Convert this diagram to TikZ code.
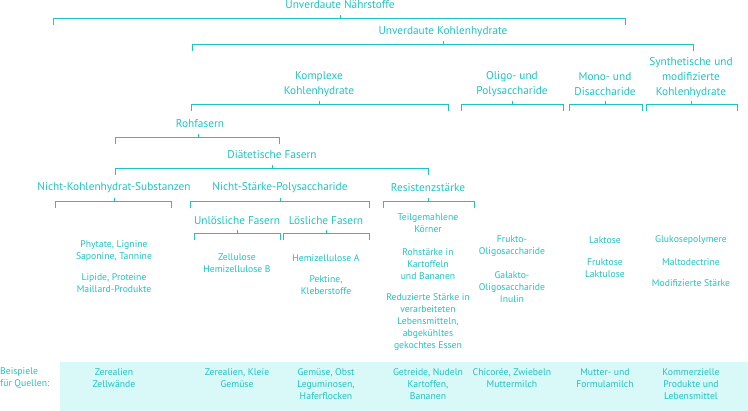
\documentclass[tikz,border=0pt]{standalone}
\usepackage{fontspec}
\setmainfont{PT Sans}
\definecolor{teal1}{HTML}{1EC3C3}
\definecolor{band}{HTML}{D9F8F8}
\tikzset{
  lbl/.style={text=teal1, font=\fontsize{11.3}{15}\selectfont, align=center, inner sep=0pt},
  leaf/.style={text=teal1, font=\fontsize{9.7}{11.8}\selectfont, align=center, inner sep=0pt},
  brk/.style={draw=teal1, line width=0.8pt}
}
% bracket: y, left x, right x, middle x
\newcommand{\fbrack}[4]{\draw[brk] (#2,#1+7) -- (#2,#1) -- (#3,#1) -- (#3,#1+7);
  \draw[brk] (#4,#1) -- (#4,#1-3);}
\begin{document}
\begin{tikzpicture}[x=1pt,y=-1pt]
\useasboundingbox (0,0) rectangle (748,411);
% band with sources
\fill[band] (60,362) rectangle (748,411);

% top levels
\node[lbl] (nae) at (340,5) {Unverdaute Nährstoffe};
\fbrack{18}{53}{625}{340}
\node[lbl] (kh) at (443,32) {Unverdaute Kohlenhydrate};
\fbrack{44}{192}{693}{443}
\node[lbl] (kom) at (319,84) {Komplexe\\Kohlenhydrate};
\node[lbl] (oli) at (512,84) {Oligo- und\\Polysaccharide};
\node[lbl] (mon) at (605,84) {Mono- und\\Disaccharide};
\node[lbl] (syn) at (691,78) {Synthetische und\\modifizierte\\Kohlenhydrate};
\fbrack{104}{191}{448}{319}
\fbrack{104}{461}{563}{512}
\fbrack{104}{569}{642}{605}
\fbrack{104}{646}{737}{691}

% fibre levels
\node[lbl] (roh) at (200,124) {Rohfasern};
\fbrack{137}{115}{279}{198}
\node[lbl] (dia) at (272,155) {Diätetische Fasern};
\fbrack{168}{115}{428}{272}
\node[lbl] (nks) at (114,188) {Nicht-Kohlenhydrat-Substanzen};
\node[lbl] (nsp) at (280,188) {Nicht-Stärke-Polysaccharide};
\node[lbl] (res) at (428,188) {Resistenzstärke};
\fbrack{201}{55}{171}{114}
\fbrack{201}{190}{369}{280}
\fbrack{201}{383}{474}{428}
\node[lbl] (unl) at (237,221) {Unlösliche Fasern};
\node[lbl] (loe) at (326,221) {Lösliche Fasern};
\fbrack{233}{194}{280}{237}
\fbrack{233}{283}{369}{326}

% leaves
\node[leaf] (l1) at (114,251) {Phytate, Lignine\\Saponine, Tannine};
\node[leaf] (l2) at (114,283) {Lipide, Proteine\\Maillard-Produkte};
\node[leaf] (l3) at (237,263) {Zellulose\\Hemizellulose B};
\node[leaf] (l4) at (326,258) {Hemizellulose A};
\node[leaf] (l5) at (326,285) {Pektine,\\Kleberstoffe};
\node[leaf] (l6) at (428,223) {Teilgemahlene\\Körner};
\node[leaf] (l7) at (428,264) {Rohstärke in\\Kartoffeln\\und Bananen};
\node[leaf] (l8) at (428,322) {Reduzierte Stärke in\\verarbeiteten\\Lebensmitteln,\\abgekühltes\\gekochtes Essen};
\node[leaf] (l9) at (512,246) {Frukto-\\Oligosaccharide};
\node[leaf] (l10) at (512,287) {Galakto-\\Oligosaccharide\\Inulin};
\node[leaf] (l11) at (605,240) {Laktose};
\node[leaf] (l12) at (605,268) {Fruktose\\Laktulose};
\node[leaf] (l13) at (691,240) {Glukosepolymere};
\node[leaf] (l14) at (691,262) {Maltodectrine};
\node[leaf] (l15) at (691,283) {Modifizierte Stärke};

% sources
\node[leaf, align=left, anchor=west] (bsp) at (0,378) {Beispiele\\für Quellen:};
\node[leaf] (q1) at (114,378) {Zerealien\\Zellwände};
\node[leaf] (q2) at (237,378) {Zerealien, Kleie\\Gemüse};
\node[leaf] (q3) at (326,384) {Gemüse, Obst\\Leguminosen,\\Haferflocken};
\node[leaf] (q4) at (428,384) {Getreide, Nudeln\\Kartoffen,\\Bananen};
\node[leaf] (q5) at (512,378) {Chicorée, Zwiebeln\\Muttermilch};
\node[leaf] (q6) at (605,378) {Mutter- und\\Formulamilch};
\node[leaf] (q7) at (691,384) {Kommerzielle\\Produkte und\\Lebensmittel};
\end{tikzpicture}
\end{document}
